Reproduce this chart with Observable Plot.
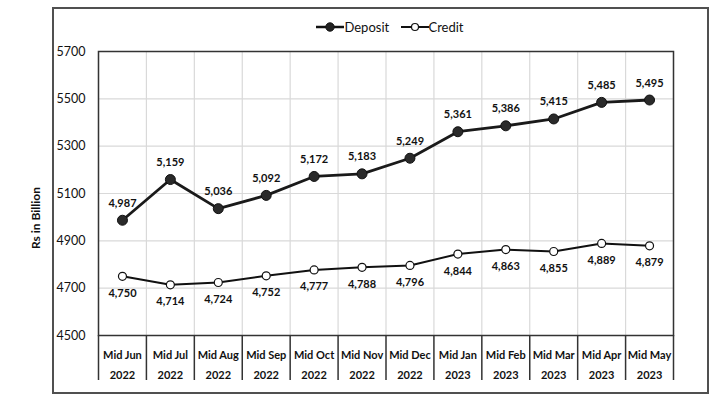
<!DOCTYPE html>
<html>
<head>
<meta charset="utf-8">
<script src="https://cdn.jsdelivr.net/npm/d3@7"></script>
<script src="https://cdn.jsdelivr.net/npm/@observablehq/plot@0.6"></script>
<style>
  body { margin: 0; background: #fff; font-family: Lato, "Open Sans", sans-serif; }
  #wrap { position: relative; width: 718px; height: 397px; overflow: hidden; }
  #border { position: absolute; left: 52px; top: 7px; width: 653px; height: 383px; border: 2px solid #505050; }
  #legend { position: absolute; top: 19px; left: 10px; width: 760px; text-align: center; font-size: 13px; color: #111; }
  #legend span.item { display: inline-flex; align-items: center; margin: 0 4px; }
  #ylabel { position: absolute; left: 35px; top: 218px; transform: translate(-50%, -50%) rotate(-90deg); font-size: 12px; font-weight: bold; color: #111; white-space: nowrap; }
  #chart { position: absolute; left: 0; top: 0; }
</style>
</head>
<body>
<div id="wrap">
  <div id="border"></div>
  <div id="chart"></div>
  <div id="legend">
    <span class="item"><svg width="28" height="12"><line x1="0" y1="6" x2="28" y2="6" stroke="#111" stroke-width="2.5"/><circle cx="14" cy="6" r="4.2" fill="#222" stroke="#111"/></svg>Deposit</span>
    <span class="item"><svg width="28" height="12"><line x1="0" y1="6" x2="28" y2="6" stroke="#111" stroke-width="2"/><circle cx="14" cy="6" r="3.5" fill="#fff" stroke="#111" stroke-width="1.2"/></svg>Credit</span>
  </div>
  <div id="ylabel">Rs in Billion</div>
</div>
<script>
const months = ["Mid Jun","Mid Jul","Mid Aug","Mid Sep","Mid Oct","Mid Nov","Mid Dec","Mid Jan","Mid Feb","Mid Mar","Mid Apr","Mid May"];
const years = ["2022","2022","2022","2022","2022","2022","2022","2023","2023","2023","2023","2023"];
const deposit = [4987,5159,5036,5092,5172,5183,5249,5361,5386,5415,5485,5495];
const credit = [4750,4714,4724,4752,4777,4788,4796,4844,4863,4855,4889,4879];
const yTicks = [4500,4700,4900,5100,5300,5500,5700];

const dep = deposit.map((v,i)=>({x:i+0.5, v, m:months[i], yr:years[i]}));
const cre = credit.map((v,i)=>({x:i+0.5, v}));
const fmt = d3.format(",");
const edges = d3.range(0, months.length + 1);

const plot = Plot.plot({
  width: 718, height: 397,
  marginLeft: 98, marginRight: 45, marginTop: 51, marginBottom: 62,
  style: { fontFamily: "Lato, 'Open Sans', sans-serif", color: "#111", background: "transparent" },
  x: { domain: [0, months.length], axis: null },
  y: { domain: [4500, 5700], axis: null },
  marks: [
    Plot.gridY(yTicks, { stroke: "#d9d9d9", strokeOpacity: 1, strokeWidth: 1.2 }),
    Plot.gridX(edges, { stroke: "#d9d9d9", strokeOpacity: 1, strokeWidth: 1.2 }),
    Plot.axisY(yTicks, { tickSize: 0, tickPadding: 13, fontSize: 12.5, label: null, tickFormat: d => String(d) }),
    Plot.axisX(edges, { tickSize: 45, stroke: "#333", strokeWidth: 1.5, tickFormat: () => "", label: null }),
    Plot.frame({ stroke: "#333", strokeWidth: 1.5 }),
    Plot.text(dep, { x: "x", y: 4500, text: d => d.m + "\n" + d.yr, dy: 27, lineHeight: 1.8, fontSize: 11, fontWeight: "bold" }),
    Plot.line(cre, { x: "x", y: "v", stroke: "#111", strokeWidth: 2 }),
    Plot.dot(cre, { x: "x", y: "v", r: 4, fill: "#fff", stroke: "#111", strokeWidth: 1.2 }),
    Plot.text(cre, { x: "x", y: "v", text: d => fmt(d.v), dy: 17, fontSize: 11, fontWeight: "bold" }),
    Plot.line(dep, { x: "x", y: "v", stroke: "#1a1a1a", strokeWidth: 2.8 }),
    Plot.dot(dep, { x: "x", y: "v", r: 5, fill: "#2a2a2a", stroke: "#111", strokeWidth: 1 }),
    Plot.text(dep, { x: "x", y: "v", text: d => fmt(d.v), dy: -17, fontSize: 11, fontWeight: "bold" })
  ]
});
document.getElementById("chart").appendChild(plot);
</script>
</body>
</html>
